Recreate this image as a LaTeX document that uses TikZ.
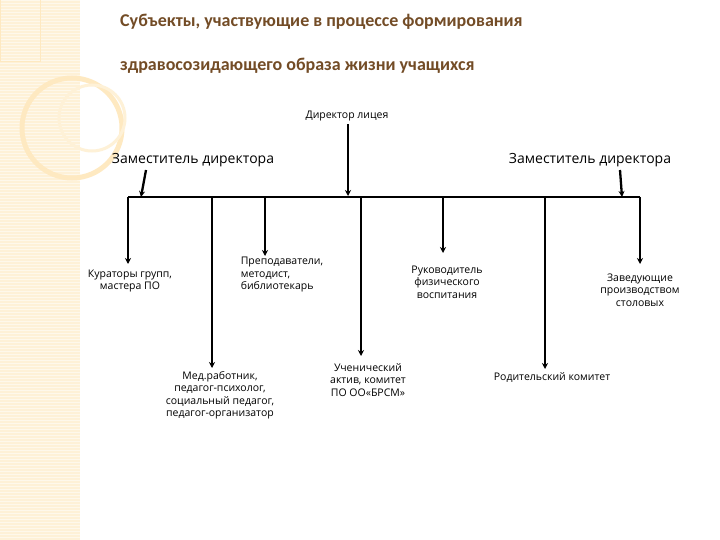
\documentclass[tikz,border=0pt]{standalone}
\usepackage{fontspec}
\usetikzlibrary{arrows.meta}
\setmainfont{Open Sans}
\newfontfamily\titlefont{Carlito}
\begin{document}
\begin{tikzpicture}[x=1pt,y=-1pt,
  ln/.style={line width=2.3pt},
  ar/.style={line width=2.3pt,-{Stealth[length=6pt,width=6pt]}},
  lbl/.style={font=\fontsize{10.5}{12.5}\selectfont,align=center,inner sep=1pt},
  dep/.style={font=\fontsize{14}{16}\selectfont,inner sep=1pt}]
\useasboundingbox (0,0) rectangle (720,540);
\fill[white] (0,0) rectangle (720,540);
\fill[yellow!30!orange!14!white] (0,0) rectangle (80,540);
\foreach \y in {0,3,...,540} \draw[white,opacity=0.5,line width=0.4pt] (0,\y) -- (80,\y);
\draw[yellow!30!orange!22!white,line width=1pt] (0,0) rectangle (40,62);
\draw[yellow!30!orange!22!white,line width=5pt] (72,128) circle (50);
\draw[yellow!30!orange!14!white,line width=3pt] (92,118) circle (33);
\node[anchor=west,font=\titlefont\bfseries\fontsize{18}{20}\selectfont,text=brown!60!black,inner sep=0] (t1) at (120,22) {Субъекты, участвующие в процессе формирования};
\node[anchor=west,font=\titlefont\bfseries\fontsize{18}{20}\selectfont,text=brown!60!black,inner sep=0] (t2) at (120,66) {здравосозидающего образа жизни учащихся};
\node[lbl] (dir) at (347,116) {Директор лицея};
\node[dep] (d1) at (193,160) {Заместитель директора};
\node[dep] (d2) at (590,160) {Заместитель директора};
\coordinate (bl) at (128,197);
\coordinate (br) at (640,197);
\draw[ln] (bl) -- (br);
\node[lbl] (kur) at (130,281) {Кураторы групп,\\мастера ПО};
\node[lbl,align=left] (pre) at (282,275) {Преподаватели,\\методист,\\библиотекарь};
\node[lbl] (med) at (220,395) {Мед.работник,\\педагог-психолог,\\социальный педагог,\\педагог-организатор};
\node[lbl] (uch) at (368,380) {Ученический\\актив, комитет\\ПО ОО«БРСМ»};
\node[lbl] (ruk) at (447,282) {Руководитель\\физического\\воспитания};
\node[lbl] (zav) at (640,290) {Заведующие\\производством\\столовых};
\node[lbl] (rod) at (552,378) {Родительский комитет};
\coordinate (s1) at (146,170);
\coordinate (s2) at (620,170);
\coordinate (a1) at (141,197);
\coordinate (a2) at (622,197);
\draw[ar] (s1) -- (a1);
\draw[ar] (s2) -- (a2);
\draw[ar] (dir.south) ++(1,2) -- (348,196);
\draw[ar] (bl) -- (128,264);
\draw[ar] (212,197) -- (212,368);
\draw[ar] (265,197) -- (265,256);
\draw[ar] (361,197) -- (361,356);
\draw[ar] (443,197) -- (443,253);
\draw[ar] (545,197) -- (545,369);
\draw[ar] (br) -- (640,264);
\end{tikzpicture}
\end{document}
